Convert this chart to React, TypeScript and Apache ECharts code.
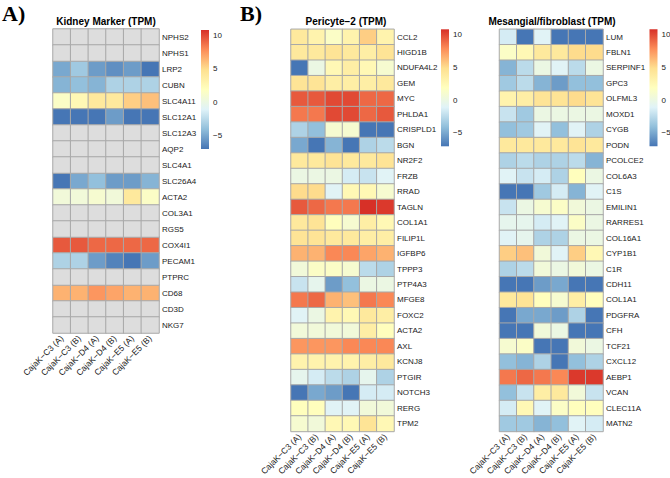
import React, { useEffect, useRef } from 'react';
import * as echarts from 'echarts';

// Sample columns shared by every heatmap
const samples = ['CajaK−C3 (A)', 'CajaK−C3 (B)', 'CajaK−D4 (A)', 'CajaK−D4 (B)', 'CajaK−E5 (A)', 'CajaK−E5 (B)'];

// A) kidney marker genes; null = not detected (NA)
const kidneyGenes = ['NPHS2', 'NPHS1', 'LRP2', 'CUBN', 'SLC4A11', 'SLC12A1', 'SLC12A3', 'AQP2', 'SLC4A1', 'SLC26A4', 'ACTA2', 'COL3A1', 'RGS5', 'COX4I1', 'PECAM1', 'PTPRC', 'CD68', 'CD3D', 'NKG7'];
const kidneyTPM: (number | null)[][] = [
  [null, null, null, null, null, null],
  [null, null, null, null, null, null],
  [-5, -3.5, -5.5, -6, -5.5, -7],
  [-4.5, -4, -4.5, -3, -3, -3],
  [1.5, 2.5, 4, 4, 5.5, 6],
  [-7, -7, -7, -5.5, -7, -7],
  [null, null, null, null, null, null],
  [null, null, null, null, null, null],
  [null, null, null, null, null, null],
  [-7, -5, -4, -5.5, -5.5, -4.5],
  [0.5, 0.5, 1, 0.5, 4, 1.5],
  [null, null, null, null, null, null],
  [null, null, null, null, null, null],
  [9.5, 9.5, 9, 9, 9, 9],
  [-3, -3, -5.5, -6.5, -7, -5.5],
  [null, null, null, null, null, null],
  [6.5, 6.5, 7.5, 7, 6.5, 6.5],
  [null, null, null, null, null, null],
  [null, null, null, null, null, null],
];

// B) pericyte-2 genes
const pericyteGenes = ['CCL2', 'HIGD1B', 'NDUFA4L2', 'GEM', 'MYC', 'PHLDA1', 'CRISPLD1', 'BGN', 'NR2F2', 'FRZB', 'RRAD', 'TAGLN', 'COL1A1', 'FILIP1L', 'IGFBP6', 'TPPP3', 'PTP4A3', 'MFGE8', 'FOXC2', 'ACTA2', 'AXL', 'KCNJ8', 'PTGIR', 'NOTCH3', 'RERG', 'TPM2'];
const pericyteTPM: number[][] = [
  [4, 3, 1.5, 3, 5.5, 3],
  [4, 4, 4.5, 4, 3.5, 4.5],
  [-7, 0, 2.5, 3.5, 2.5, 1],
  [4.5, 4.5, 3.5, 3.5, 3.5, 4],
  [9.5, 9.5, 10, 10, 9, 9],
  [8.5, 8.5, 10, 10, 9, 9.5],
  [-3, -4, 1, 1, -7, -7],
  [-5, -7, -4.5, -7, -3, -2.5],
  [4, 4, 4.5, 4, 4, 4.5],
  [0, 0, 0, -1.5, -2, -1],
  [5, 5, -1, 2.5, 2.5, 1],
  [9.5, 9, 8.5, 8.5, 11, 10.5],
  [4, 4.5, 2, 1, 3.5, 2.5],
  [4.5, 4.5, 4, 4, 3.5, 3.5],
  [6.5, 6.5, 8, 8, 7, 6.5],
  [0.5, 1.5, 1.5, 1, -2.5, -3],
  [-2, -0.5, -5.5, -4, 0, 0],
  [8.5, 9, 6.5, 6, 8.5, 8],
  [-1, 0, 3, 2.5, 4, 3.5],
  [0.5, 0.5, 0.5, 0.5, 3.5, 2],
  [7.5, 7.5, 7.5, 8, 8, 8],
  [3, 3, 3, 3, 3.5, 4],
  [-0.5, -1.5, -2.5, -3, -0.5, -3],
  [-7, -5, -5.5, -7, -1.5, -1.5],
  [2, 2, -1, -1, 0.5, 0.5],
  [1, 0.5, 2.5, 2.5, 4.5, 2.5],
];

// B) mesangial / fibroblast genes
const mesangialGenes = ['LUM', 'FBLN1', 'SERPINF1', 'GPC3', 'OLFML3', 'MOXD1', 'CYGB', 'PODN', 'PCOLCE2', 'COL6A3', 'C1S', 'EMILIN1', 'RARRES1', 'COL16A1', 'CYP1B1', 'C1R', 'CDH11', 'COL1A1', 'PDGFRA', 'CFH', 'TCF21', 'CXCL12', 'AEBP1', 'VCAN', 'CLEC11A', 'MATN2'];
const mesangialTPM: number[][] = [
  [-1.5, -7, -1, -7, -7, -7],
  [1.5, 2.5, 4, 4, 5, 5],
  [-4.5, -2.5, 0, -1, -2.5, 0],
  [-3.5, -2.5, -4.5, -5.5, -4, -4],
  [3, 3.5, 4.5, 4.5, 5, 4.5],
  [-2, -3.5, 0, 0, 0, 0],
  [-4, -3.5, -1, -4, -1, -3],
  [4, 4, 4, 4, 4.5, 4],
  [-3, -2.5, -3, -3, -2.5, -4.5],
  [-1, -2, -1.5, -3, 2, 0],
  [-7, -7, -3.5, -1.5, -4.5, -1],
  [-2, 0, 1, 1.5, 0.5, 0],
  [-0.5, -0.5, -1.5, -1, 1.5, 0],
  [-1, -0.5, -3, -3, 0, 0],
  [5.5, 6, 0.5, -1, 5.5, 2.5],
  [-3, -2.5, 0.5, 0, 0.5, 0],
  [-7, -7, -5.5, -5, -7, -7],
  [4, 4.5, 2, 1, 3.5, 2],
  [-7, -5, -5, -5.5, -3, -7],
  [-7, -7, 0.5, 0, -7, -7],
  [1, 1.5, -7, -7, 0.5, 0],
  [-4, -4.5, -3, -7, -4, -3],
  [8.5, 9, 8.5, 8, 10.5, 10.5],
  [-4, -2, 3.5, 4, 0.5, -2],
  [-1.5, 2.5, -1, 1.5, 2, 2],
  [-3.5, -3.5, -4.5, -4, -1, -1.5],
];

// Colour scale (reversed RdYlBu) and its legend ticks
const scaleMin = -7.05;
const scaleMax = 10.8;
const legendTicks = [10, 5, 0, -5];
const palette = ['#4575B4', '#91BFDB', '#E0F3F8', '#FFFFBF', '#FEE090', '#FC8D59', '#D73027'];
const naColor = '#DDDDDD';

const panels = [
  {
    title: 'Kidney Marker (TPM)', genes: kidneyGenes, values: kidneyTPM,
    grid: { left: 53, top: 29, width: 106, height: 304 }, titleX: 106,
    bar: { x: 201, top: 30, height: 119 },
  },
  {
    title: 'Pericyte−2 (TPM)', genes: pericyteGenes, values: pericyteTPM,
    grid: { left: 291, top: 29.3, width: 103, height: 406 }, titleX: 346,
    bar: { x: 441, top: 29.3, height: 117 },
  },
  {
    title: 'Mesangial/fibroblast (TPM)', genes: mesangialGenes, values: mesangialTPM,
    grid: { left: 499.5, top: 29.3, width: 103.5, height: 406 }, titleX: 552,
    bar: { x: 649.5, top: 29.3, height: 117 },
  },
];

const FONT = 'Liberation Sans, Arial, sans-serif';
const TEXT = '#1a1a1a';

export default function App() {
  const ref = useRef<HTMLDivElement>(null);

  useEffect(() => {
    if (!ref.current) return;
    const chart = echarts.init(ref.current, null, { renderer: 'svg' });

    const grids: any[] = [];
    const xAxes: any[] = [];
    const yAxes: any[] = [];
    const series: any[] = [];
    const valueSeriesIdx: number[] = [];
    const naSeriesIdx: number[] = [];
    const graphics: any[] = [];

    panels.forEach((p, i) => {
      grids.push({ ...p.grid, containLabel: false });
      xAxes.push({
        type: 'category', gridIndex: i, data: samples, position: 'bottom',
        axisLine: { show: false }, axisTick: { show: false }, splitArea: { show: false },
        axisLabel: { rotate: 45, interval: 0, fontSize: 8.5, color: TEXT, margin: 4, fontFamily: FONT },
      });
      yAxes.push({
        type: 'category', gridIndex: i, data: p.genes, inverse: true, position: 'right',
        axisLine: { show: false }, axisTick: { show: false }, splitArea: { show: false },
        axisLabel: { interval: 0, fontSize: 8, color: TEXT, margin: 3, fontFamily: FONT },
      });

      const vals: any[] = [];
      const na: any[] = [];
      p.values.forEach((row, r) => row.forEach((v, c) => {
        if (v === null) na.push([c, r, 0]);
        else vals.push([c, r, v]);
      }));
      const cellStyle = { borderColor: '#a8a8a8', borderWidth: 1 };
      valueSeriesIdx.push(series.length);
      series.push({
        type: 'heatmap', xAxisIndex: i, yAxisIndex: i, data: vals,
        itemStyle: cellStyle, emphasis: { disabled: true }, silent: true,
      });
      if (na.length) {
        naSeriesIdx.push(series.length);
        series.push({
          type: 'heatmap', xAxisIndex: i, yAxisIndex: i, data: na,
          itemStyle: cellStyle, emphasis: { disabled: true }, silent: true,
        });
      }

      // panel title
      graphics.push({
        type: 'text', x: p.titleX, y: 21,
        style: { text: p.title, fontSize: 10, fontWeight: 'bold', fontFamily: FONT, fill: '#000', textAlign: 'center', textVerticalAlign: 'middle' },
      });

      // colour bar legend
      const b = p.bar;
      graphics.push({
        type: 'rect', shape: { x: b.x, y: b.top, width: 8, height: b.height },
        style: {
          fill: new echarts.graphic.LinearGradient(0, 1, 0, 0,
            palette.map((c, k) => ({ offset: k / (palette.length - 1), color: c }))),
        },
      });
      legendTicks.forEach((t) => {
        const y = b.top + ((scaleMax - t) / (scaleMax - scaleMin)) * b.height;
        graphics.push({
          type: 'text', x: b.x + 12, y,
          style: { text: t < 0 ? '−' + Math.abs(t) : String(t), fontSize: 8, fontFamily: FONT, fill: TEXT, textAlign: 'left', textVerticalAlign: 'middle' },
        });
      });
    });

    // panel letters
    graphics.push({
      type: 'text', x: 2, y: 13,
      style: { text: 'A)', fontSize: 22, fontWeight: 'bold', fontFamily: 'Liberation Serif, Times New Roman, serif', fill: '#000', textAlign: 'left', textVerticalAlign: 'middle' },
    });
    graphics.push({
      type: 'text', x: 240, y: 13,
      style: { text: 'B)', fontSize: 22, fontWeight: 'bold', fontFamily: 'Liberation Serif, Times New Roman, serif', fill: '#000', textAlign: 'left', textVerticalAlign: 'middle' },
    });

    chart.setOption({
      animation: false,
      backgroundColor: '#ffffff',
      grid: grids,
      xAxis: xAxes,
      yAxis: yAxes,
      visualMap: [
        {
          show: false, type: 'continuous', min: scaleMin, max: scaleMax,
          seriesIndex: valueSeriesIdx, calculable: false,
          inRange: { color: palette },
        },
        {
          show: false, type: 'continuous', min: 0, max: 1,
          seriesIndex: naSeriesIdx, calculable: false,
          inRange: { color: [naColor, naColor] },
        },
      ],
      series,
      graphic: graphics,
    });

    return () => chart.dispose();
  }, []);

  return (
    <div
      ref={ref}
      style={{ position: 'absolute', left: 0, top: 0, width: 670, height: 478 }}
    />
  );
}
